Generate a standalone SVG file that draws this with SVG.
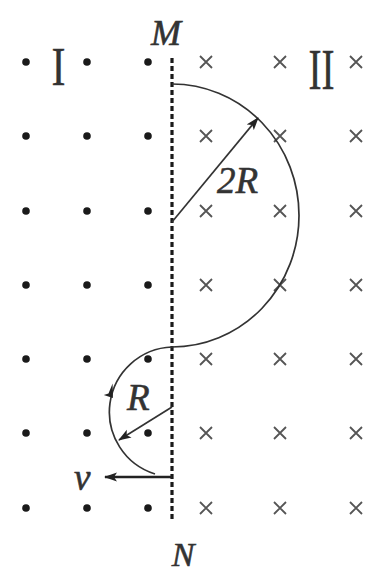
<svg xmlns="http://www.w3.org/2000/svg" width="365" height="574" viewBox="0 0 365 574">
<style>
.dot{fill:#1a1a1a}
.cross{stroke:#555;stroke-width:1.8;fill:none}
.path{stroke:#333;stroke-width:1.7;fill:none}
.lbl{font-family:"Liberation Serif",serif;font-style:italic;fill:#333;stroke:#333;stroke-width:0.6}
.num{font-family:"Liberation Serif",serif;fill:#333;stroke:#333;stroke-width:0.4}
</style>
<defs>
<marker id="ah" markerWidth="13" markerHeight="10" refX="12" refY="5" orient="auto" markerUnits="userSpaceOnUse">
<path d="M0,0.5 L13,5 L0,9.5 L3,5 Z" fill="#222"/>
</marker>
<g id="x"><path class="cross" d="M-6,-6 L6,6 M6,-6 L-6,6"/></g>
</defs>
<rect width="365" height="574" fill="#fff"/>
<g id="field-dots">
<g id="dots-col1">
<circle class="dot" cx="26" cy="62" r="3.8"/><circle class="dot" cx="26" cy="136" r="3.8"/><circle class="dot" cx="26" cy="211" r="3.8"/><circle class="dot" cx="26" cy="285" r="3.8"/><circle class="dot" cx="26" cy="359" r="3.8"/><circle class="dot" cx="26" cy="433" r="3.8"/><circle class="dot" cx="26" cy="508" r="3.8"/>
</g>
<g id="dots-col2">
<circle class="dot" cx="87" cy="62" r="3.8"/><circle class="dot" cx="87" cy="136" r="3.8"/><circle class="dot" cx="87" cy="211" r="3.8"/><circle class="dot" cx="87" cy="285" r="3.8"/><circle class="dot" cx="87" cy="359" r="3.8"/><circle class="dot" cx="87" cy="433" r="3.8"/><circle class="dot" cx="87" cy="508" r="3.8"/>
</g>
<g id="dots-col3">
<circle class="dot" cx="148" cy="62" r="3.8"/><circle class="dot" cx="148" cy="136" r="3.8"/><circle class="dot" cx="148" cy="211" r="3.8"/><circle class="dot" cx="148" cy="285" r="3.8"/><circle class="dot" cx="148" cy="359" r="3.8"/><circle class="dot" cx="148" cy="433" r="3.8"/><circle class="dot" cx="148" cy="508" r="3.8"/>
</g>
</g>
<g id="field-crosses">
<g id="crosses-col1">
<use href="#x" x="206" y="62"/><use href="#x" x="206" y="136"/><use href="#x" x="206" y="211"/><use href="#x" x="206" y="285"/><use href="#x" x="206" y="359"/><use href="#x" x="206" y="433"/><use href="#x" x="206" y="508"/>
</g>
<g id="crosses-col2">
<use href="#x" x="280" y="62"/><use href="#x" x="280" y="136"/><use href="#x" x="280" y="211"/><use href="#x" x="280" y="285"/><use href="#x" x="280" y="359"/><use href="#x" x="280" y="433"/><use href="#x" x="280" y="508"/>
</g>
<g id="crosses-col3">
<use href="#x" x="356" y="62"/><use href="#x" x="356" y="136"/><use href="#x" x="356" y="211"/><use href="#x" x="356" y="285"/><use href="#x" x="356" y="359"/><use href="#x" x="356" y="433"/><use href="#x" x="356" y="508"/>
</g>
</g>
<g id="boundary-MN">
<line x1="172" y1="58" x2="172" y2="520" stroke="#1a1a1a" stroke-width="3.2" stroke-dasharray="5,3"/>
<text class="lbl" x="166" y="45" font-size="36" text-anchor="middle">M</text>
<text class="lbl" x="183" y="566" font-size="34" text-anchor="middle">N</text>
</g>
<g id="region-labels">
<text class="num" x="58.5" y="85" font-size="54" text-anchor="middle" textLength="14" lengthAdjust="spacingAndGlyphs">I</text>
<text class="num" x="321.5" y="89" font-size="56" text-anchor="middle" textLength="26" lengthAdjust="spacingAndGlyphs">II</text>
</g>
<g id="trajectory">
<path class="path" d="M172,84 A127,131.5 0 0 1 172,347 A65,65 0 0 0 155,474"/>
<polygon points="112.6,383.5 112.9,398.0 103.8,395.0 108.5,393.5" fill="#222"/>
</g>
<g id="connectors">
<line class="path" x1="172" y1="222" x2="258" y2="118" marker-end="url(#ah)"/>
<line class="path" x1="172" y1="407" x2="119" y2="440" marker-end="url(#ah)"/>
<line x1="172" y1="477" x2="105" y2="477" stroke="#222" stroke-width="2.6" marker-end="url(#ah)"/>
</g>
<g id="quantity-labels">
<text class="lbl" x="217" y="193" font-size="37">2R</text>
<text class="lbl" x="127" y="410" font-size="37">R</text>
<text class="lbl" x="74" y="490" font-size="37">v</text>
</g>
</svg>
